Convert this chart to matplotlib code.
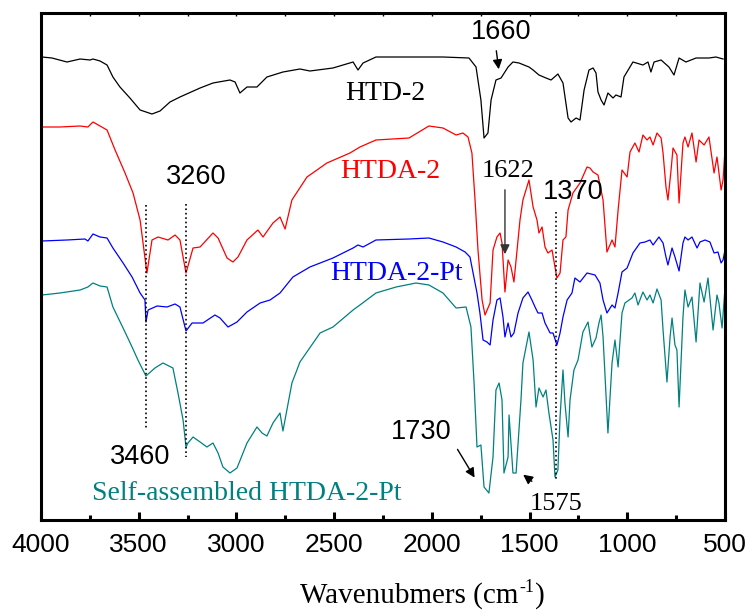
import matplotlib
matplotlib.use("Agg")
import matplotlib.pyplot as plt
from matplotlib.ticker import MultipleLocator
from matplotlib.transforms import offset_copy

# FTIR spectra (offset transmittance, arbitrary units)
htd2_wn = [3995, 3944, 3867, 3800, 3749, 3734, 3698, 3662, 3632, 3596, 3545, 3493, 3432, 3391,
           3340, 3289, 3186, 3120, 3033, 3007, 2982, 2946, 2895, 2844, 2762, 2675, 2624, 2506,
           2403, 2378, 2352, 2286, 2117, 1943, 1810, 1774, 1749, 1733, 1713, 1697, 1672, 1646,
           1610, 1585, 1554, 1503, 1482, 1452, 1416, 1390, 1355, 1329, 1303, 1288, 1262, 1242,
           1221, 1196, 1175, 1160, 1150, 1134, 1119, 1099, 1073, 1058, 1032, 1017, 971, 920,
           894, 879, 863, 827, 787, 761, 735, 700, 648, 582, 546, 510]
htd2_t = [463, 462, 458, 461, 460, 461, 459, 455, 443, 433, 422, 410, 406, 409,
          418, 423, 432, 437, 440, 438, 427, 433, 433, 443, 448, 451, 449, 452,
          458, 450, 457, 463, 463, 463, 462, 453, 420, 382, 387, 420, 440, 442,
          453, 458, 457, 453, 450, 445, 442, 440, 446, 437, 402, 398, 402, 400,
          430, 450, 452, 447, 428, 420, 415, 427, 422, 425, 423, 443, 458, 455,
          458, 448, 458, 460, 453, 445, 462, 458, 462, 462, 463, 461]

htda2_wn = [3995, 3903, 3800, 3760, 3734, 3698, 3662, 3621, 3570, 3529, 3493, 3458, 3432, 3401,
            3350, 3314, 3289, 3258, 3222, 3186, 3120, 3094, 3048, 3018, 2992, 2946, 2890, 2864,
            2813, 2777, 2751, 2716, 2639, 2537, 2419, 2368, 2286, 2117, 2066, 2015, 1943, 1876,
            1841, 1815, 1795, 1779, 1764, 1743, 1728, 1702, 1687, 1667, 1651, 1641, 1626, 1610,
            1595, 1580, 1549, 1534, 1503, 1482, 1462, 1452, 1436, 1421, 1406, 1385, 1370, 1360,
            1344, 1329, 1314, 1303, 1278, 1242, 1206, 1191, 1175, 1150, 1124, 1104, 1078, 1063,
            1047, 1027, 1001, 986, 961, 940, 920, 899, 884, 868, 848, 827, 817, 802, 792, 776,
            766, 746, 735, 715, 705, 689, 669, 648, 633, 607, 582, 556, 541, 520, 510, 500]
htda2_t = [393, 393, 394, 393, 398, 394, 390, 370, 347, 327, 300, 247, 280, 283,
           280, 285, 280, 247, 272, 273, 287, 282, 262, 258, 263, 280, 290, 283,
           297, 303, 291, 320, 343, 357, 367, 373, 380, 382, 388, 394, 392, 385,
           387, 383, 367, 320, 270, 220, 205, 217, 270, 283, 287, 277, 228, 260,
           253, 238, 300, 320, 340, 313, 300, 287, 293, 273, 267, 270, 253, 242,
           247, 280, 283, 310, 327, 337, 353, 352, 348, 345, 320, 268, 280, 273,
           310, 350, 343, 368, 377, 368, 385, 380, 383, 375, 387, 382, 367, 333, 320, 350,
           372, 365, 317, 377, 383, 373, 387, 358, 380, 375, 383, 347, 363, 330, 340, 370]

htda2pt_wn = [3995, 3867, 3775, 3760, 3734, 3698, 3662, 3632, 3580, 3534, 3493, 3468, 3463, 3452,
              3406, 3355, 3314, 3289, 3258, 3227, 3171, 3110, 3084, 3043, 2997, 2946, 2879, 2828,
              2777, 2711, 2624, 2506, 2403, 2378, 2352, 2286, 2117, 2015, 1943, 1876, 1830, 1805,
              1789, 1769, 1754, 1738, 1718, 1702, 1687, 1667, 1651, 1636, 1626, 1610, 1595, 1580,
              1559, 1534, 1508, 1488, 1472, 1457, 1436, 1421, 1395, 1380, 1360, 1344, 1329, 1308,
              1283, 1268, 1242, 1206, 1165, 1140, 1124, 1104, 1078, 1063, 1047, 1027, 1001, 971,
              935, 909, 884, 868, 838, 817, 802, 792, 771, 756, 735, 715, 705, 689, 669, 643,
              628, 602, 577, 556, 536, 520, 510, 500]
htda2pt_t = [279, 280, 281, 279, 286, 283, 282, 272, 257, 243, 227, 220, 198, 210,
             214, 213, 216, 213, 189, 197, 197, 205, 202, 193, 198, 208, 217, 220,
             227, 243, 253, 262, 272, 275, 273, 280, 281, 282, 278, 273, 268, 263,
             247, 227, 207, 180, 178, 175, 200, 220, 222, 203, 183, 197, 183, 187,
             207, 222, 228, 220, 213, 207, 207, 197, 187, 187, 175, 187, 203, 220,
             227, 242, 238, 247, 245, 237, 220, 207, 215, 212, 227, 248, 252, 267,
             277, 278, 280, 275, 283, 277, 263, 255, 272, 263, 249, 277, 283, 280, 283, 272,
             278, 280, 278, 267, 268, 257, 260, 270]

selfpt_wn = [3995, 3903, 3800, 3760, 3734, 3698, 3662, 3632, 3580, 3534, 3504, 3463, 3417, 3376,
             3325, 3299, 3273, 3258, 3248, 3222, 3186, 3151, 3120, 3094, 3069, 3033, 2997, 2946,
             2895, 2869, 2844, 2813, 2777, 2762, 2716, 2675, 2572, 2506, 2403, 2368, 2286, 2183,
             2081, 2015, 1943, 1876, 1825, 1800, 1784, 1769, 1749, 1733, 1708, 1687, 1672, 1656,
             1641, 1631, 1610, 1605, 1585, 1569, 1544, 1534, 1503, 1482, 1467, 1452, 1431, 1416,
             1401, 1380, 1370, 1355, 1344, 1329, 1319, 1303, 1293, 1273, 1252, 1227, 1201, 1181,
             1160, 1145, 1134, 1124, 1099, 1078, 1063, 1047, 1027, 1012, 976, 961, 945, 920,
             899, 884, 868, 848, 827, 817, 797, 781, 771, 756, 746, 735, 715, 705, 689, 669,
             648, 628, 607, 587, 561, 541, 531, 515, 500]
selfpt_t = [225, 227, 230, 233, 237, 234, 233, 213, 192, 173, 160, 144, 152, 157,
            152, 127, 100, 73, 77, 83, 78, 73, 77, 67, 53, 47, 52, 77,
            93, 87, 84, 97, 107, 89, 137, 158, 187, 193, 210, 215, 227, 233,
            237, 235, 227, 212, 213, 193, 137, 73, 75, 33, 27, 63, 130, 137,
            120, 47, 63, 105, 47, 47, 120, 157, 188, 160, 113, 132, 123, 130,
            107, 80, 43, 50, 103, 150, 117, 83, 120, 150, 160, 188, 198, 173,
            182, 197, 205, 183, 87, 157, 180, 153, 207, 217, 222, 227, 215, 228,
            220, 225, 217, 231, 220, 190, 138, 183, 202, 175, 170, 113, 203, 230, 213, 223,
            178, 237, 218, 242, 190, 225, 217, 192, 232]

fig = plt.figure(figsize=(7.52, 6.14), dpi=100)
ax = fig.add_axes([41 / 752, 1 - 520 / 614, 684 / 752, 507 / 614])

lw = 0.9
ax.plot(htd2_wn, htd2_t, color='black', lw=lw)
ax.plot(htda2_wn, htda2_t, color='red', lw=lw)
ax.plot(htda2pt_wn, htda2pt_t, color='blue', lw=lw)
ax.plot(selfpt_wn, selfpt_t, color='#008080', lw=lw)

ax.set_xlim(4000, 500)
ax.set_ylim(0, 507)
ax.set_yticks([])
ax.xaxis.set_major_locator(MultipleLocator(500))
ax.xaxis.set_minor_locator(MultipleLocator(250))
ax.tick_params(axis='x', which='major', direction='in', length=6, width=2.2, pad=9,
               labelsize=19, labelfontfamily='Liberation Sans')
ax.tick_params(axis='x', which='minor', direction='in', length=3.5, width=2.2)
for sp in ax.spines.values():
    sp.set_linewidth(2.2)

top = ax.secondary_xaxis('top')
top.xaxis.set_major_locator(MultipleLocator(250))
top.tick_params(direction='in', length=2.5, width=1, labeltop=False)

# x label built in pieces so the superscript keeps a plain hyphen
base_y = 1 - 603 / 614
lab = fig.text(300 / 752, base_y, 'Wavenubmers (cm', ha='left', va='baseline',
               fontsize=21, family='Liberation Serif')
fig.canvas.draw()
x_sup = lab.get_window_extent().x1 / fig.bbox.width
sup = fig.text(x_sup, base_y, '-1', fontsize=13, family='Liberation Serif',
               va='baseline', ha='left',
               transform=offset_copy(fig.transFigure, fig=fig, x=1, y=11, units='dots'))
fig.canvas.draw()
x_par = sup.get_window_extent().x1 / fig.bbox.width + 1 / 752
fig.text(x_par, base_y, ')', ha='left', va='baseline', fontsize=21, family='Liberation Serif')

serif = dict(family='Liberation Serif', fontsize=20, va='center')
sans = dict(family='Liberation Sans', fontsize=19.5, va='center', ha='center')

ax.text(2444, 427, 'HTD-2', color='black', ha='left', **serif)
ax.text(2470, 348, 'HTDA-2', color='red', ha='left', **serif)
ax.text(2521, 246, 'HTDA-2-Pt', color='blue', ha='left', **serif)
ax.text(3739, 27, 'Self-assembled HTDA-2-Pt', color='#008080', ha='left', **serif)

ax.text(3207, 343, '3260', **sans)
ax.text(3493, 63, '3460', **sans)
ax.text(1646, 488, '1660', **sans)
ax.text(1278, 328, '1370', **sans)
ax.text(2056, 88, '1730', **sans)
ax.text(1608, 349, '1622', ha='center', **dict(serif, fontsize=19))
ax.text(1365, 16, '1575', ha='center', **dict(serif, fontsize=19))

# dotted guide lines
ax.plot([3463, 3463], [315, 92], ls=':', color='black', lw=1.2)
ax.plot([3258, 3258], [316, 63], ls=':', color='black', lw=1.2)
ax.plot([1365, 1365], [308, 40], ls=':', color='black', lw=1.2)

arrow = dict(arrowstyle='-|>', color='black', lw=1, mutation_scale=14)
ax.annotate('', xy=(1656, 448), xytext=(1672, 472), arrowprops=arrow)
ax.annotate('', xy=(1626, 263), xytext=(1626, 333), arrowprops=dict(arrow, color='#333333'))
ax.annotate('', xy=(1774, 40), xytext=(1876, 73), arrowprops=arrow)
ax.annotate('', xy=(1544, 47), xytext=(1477, 37), arrowprops=arrow)

fig.savefig('out.png', dpi=100)
